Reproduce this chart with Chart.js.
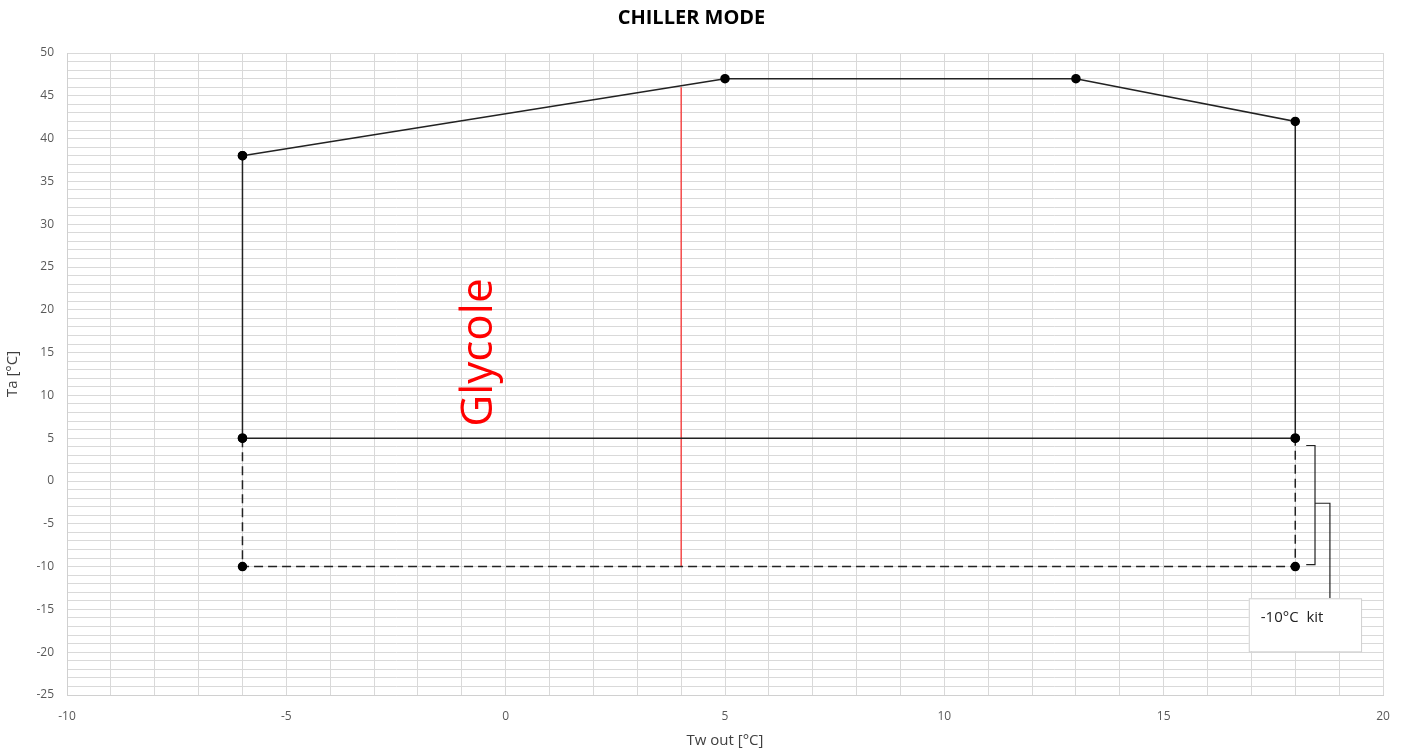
<!DOCTYPE html>
<html>
<head>
<meta charset="utf-8">
<script src="https://cdn.jsdelivr.net/npm/chart.js@4.4.0/dist/chart.umd.min.js"></script>
<style>
  html, body { margin: 0; padding: 0; background: #fff; }
  #wrap { width: 1407px; height: 752px; }
</style>
</head>
<body>
<div id="wrap"><canvas id="myChart"></canvas></div>
<script>
// operating envelope (Tw out, Ta)
const envX = [-6, 5, 13, 18, 18, -6, -6];
const envY = [38, 47, 47, 42, 5, 5, 38];
// -10°C kit extension (dashed)
const kitX = [-6, -6, 18, 18];
const kitY = [5, -10, -10, 5];
// glycole limit
const glyX = [4, 4];
const glyY = [-10, 46];

// annotation : bracket + label box
const braceX = [18.25, 18.45, 18.79];
const braceY = [4.15, -2.6, -9.77];
const boxX = [16.94, 19.5];
const boxY = [-13.7, -19.9];
const boxText = '-10°C  kit';
const glyText = 'Glycole';
const glyPos = [-0.6, 15];

const toPts = (xs, ys) => xs.map((x, i) => ({x: x, y: ys[i]}));

const annots = {
	id: 'annots',
	afterDatasetsDraw: function(chart) {
		const ctx = chart.ctx;
		const sx = chart.scales.x, sy = chart.scales.y;
		const px = v => sx.getPixelForValue(v);
		const py = v => sy.getPixelForValue(v);
		ctx.save();

		// bracket
		ctx.strokeStyle = '#222';
		ctx.lineWidth = 1.2;
		ctx.beginPath();
		ctx.moveTo(px(braceX[0]), py(braceY[0]));
		ctx.lineTo(px(braceX[1]), py(braceY[0]));
		ctx.lineTo(px(braceX[1]), py(braceY[2]));
		ctx.lineTo(px(braceX[0]), py(braceY[2]));
		ctx.moveTo(px(braceX[1]), py(braceY[1]));
		ctx.lineTo(px(braceX[2]), py(braceY[1]));
		ctx.lineTo(px(braceX[2]), py(boxY[0]));
		ctx.stroke();

		// box
		const bx = px(boxX[0]), by = py(boxY[0]);
		const bw = px(boxX[1]) - bx, bh = py(boxY[1]) - by;
		ctx.fillStyle = '#fff';
		ctx.fillRect(bx, by, bw, bh);
		ctx.strokeStyle = '#d0d0d0';
		ctx.lineWidth = 1;
		ctx.strokeRect(bx + 0.5, by + 0.5, bw, bh);
		ctx.fillStyle = '#222';
		ctx.font = '15px "Open Sans", sans-serif';
		ctx.textAlign = 'left';
		ctx.textBaseline = 'middle';
		ctx.fillText(boxText, bx + 12, by + 19);

		// glycole label
		ctx.translate(px(glyPos[0]), py(glyPos[1]));
		ctx.rotate(-Math.PI / 2);
		ctx.fillStyle = '#ff0000';
		ctx.font = '44px "Open Sans", sans-serif';
		ctx.textAlign = 'center';
		ctx.textBaseline = 'middle';
		ctx.fillText(glyText, 0, 0);

		ctx.restore();
	}
};

const ctx = document.getElementById('myChart');

new Chart(ctx, {
	type: 'scatter',
	data: {
		datasets: [{
			label: 'envelope',
			data: toPts(envX, envY),
			showLine: true,
			borderColor: '#222',
			borderWidth: 1.5,
			pointRadius: 4,
			pointBackgroundColor: '#000',
			pointBorderColor: '#000',
		}, {
			label: 'kit',
			data: toPts(kitX, kitY),
			showLine: true,
			borderColor: '#222',
			borderWidth: 1.5,
			borderDash: [9, 5],
			pointRadius: 4,
			pointBackgroundColor: '#000',
			pointBorderColor: '#000',
		}, {
			label: 'glycole',
			data: toPts(glyX, glyY),
			showLine: true,
			borderColor: 'rgba(255,0,0,0.85)',
			borderWidth: 1.2,
			pointRadius: 0,
		}]
	},
	options: {
		responsive: true,
		maintainAspectRatio: false,
		animation: false,
		layout: { padding: { left: 0, right: 24, top: 0, bottom: 0 } },
		plugins: {
			legend: { display: false },
			tooltip: { enabled: false },
			title: {
				display: true,
				text: 'CHILLER MODE',
				color: '#000',
				font: { family: '"Open Sans", sans-serif', size: 20, weight: 'bold' },
				padding: { top: 6, bottom: 23 },
			}
		},
		scales: {
			x: {
				type: 'linear',
				min: -10,
				max: 20,
				afterFit: function(scale) { scale.height = 57; },
				grid: { color: '#d9d9d9', drawTicks: false },
				border: { color: '#d0d0d0', width: 1 },
				ticks: {
					stepSize: 1,
					autoSkip: false,
					maxRotation: 0,
					padding: 14,
					color: '#595959',
					font: { family: '"Open Sans", sans-serif', size: 12 },
					callback: v => (v % 5 === 0 ? v : '')
				},
				title: {
					display: true,
					text: 'Tw out [°C]',
					color: '#404040',
					font: { family: '"Open Sans", sans-serif', size: 15 },
					padding: { top: 0, bottom: 2 }
				}
			},
			y: {
				type: 'linear',
				min: -25,
				max: 50,
				afterFit: function(scale) { scale.width = 67; },
				grid: { color: '#d9d9d9', drawTicks: false },
				border: { color: '#d0d0d0', width: 1 },
				ticks: {
					stepSize: 1,
					autoSkip: false,
					padding: 13,
					color: '#595959',
					font: { family: '"Open Sans", sans-serif', size: 12 },
					callback: v => (v % 5 === 0 ? v : '')
				},
				title: {
					display: true,
					text: 'Ta [°C]',
					color: '#404040',
					font: { family: '"Open Sans", sans-serif', size: 15 },
					padding: { top: 4, bottom: 0 }
				}
			}
		}
	},
	plugins: [annots]
});
</script>
</body>
</html>
